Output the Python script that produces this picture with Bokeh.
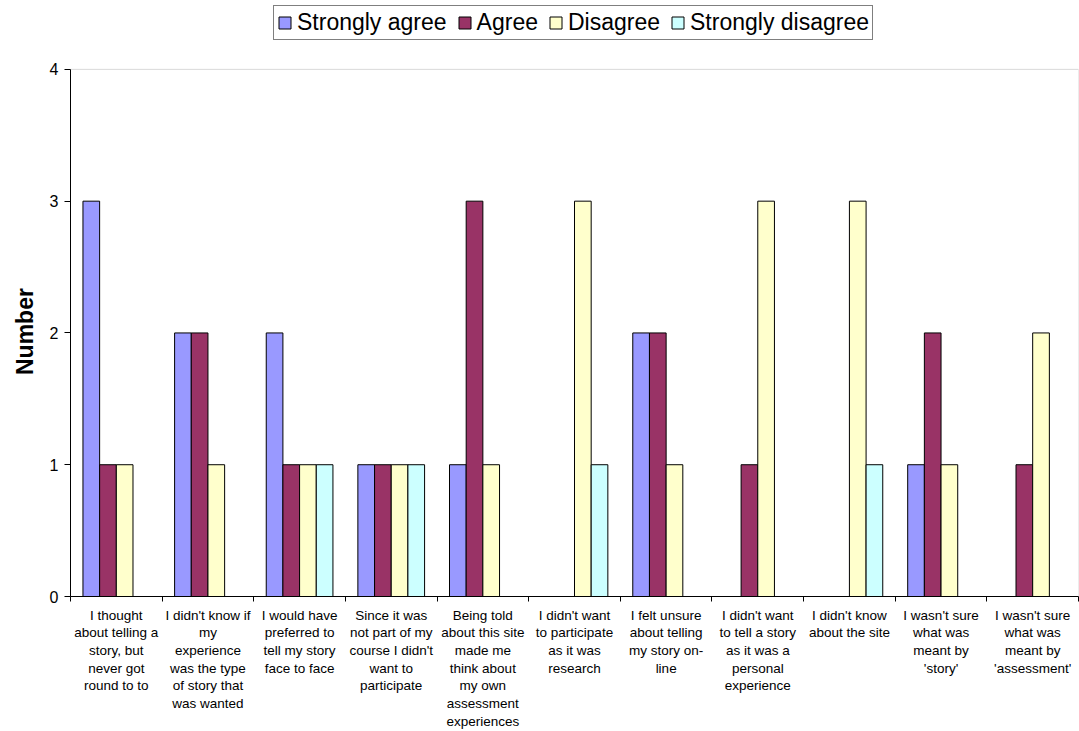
from bokeh.plotting import figure
from bokeh.models import (ColumnDataSource, Range1d, FixedTicker, Legend,
                          LegendItem, BoxAnnotation, Title)
from bokeh.transform import dodge
from bokeh.embed import file_html
from bokeh.resources import INLINE

# Survey statements (line breaks are where each label wraps under the axis)
categories = [
    "I thought\nabout telling a\nstory, but\nnever got\nround to to",
    "I didn't know if\nmy\nexperience\nwas the type\nof story that\nwas wanted",
    "I would have\npreferred to\ntell my story\nface to face",
    "Since it was\nnot part of my\ncourse I didn't\nwant to\nparticipate",
    "Being told\nabout this site\nmade me\nthink about\nmy own\nassessment\nexperiences",
    "I didn't want\nto participate\nas it was\nresearch",
    "I felt unsure\nabout telling\nmy story on-\nline",
    "I didn't want\nto tell a story\nas it was a\npersonal\nexperience",
    "I didn't know\nabout the site",
    "I wasn't sure\nwhat was\nmeant by\n'story'",
    "I wasn't sure\nwhat was\nmeant by\n'assessment'",
]

series_names = ["Strongly agree", "Agree", "Disagree", "Strongly disagree"]
strongly_agree = [3, 2, 2, 1, 1, 0, 2, 0, 0, 1, 0]
agree = [1, 2, 1, 1, 3, 0, 2, 1, 0, 2, 1]
disagree = [1, 1, 1, 1, 1, 3, 1, 3, 3, 1, 2]
strongly_disagree = [0, 0, 1, 1, 0, 1, 0, 0, 1, 0, 0]
series_colors = ["#9999FF", "#993366", "#FFFFCC", "#CCFFFF"]

y_ticks = [0, 1, 2, 3, 4]
y_title = "Number"

FONT = "Liberation Sans"

n = len(categories)
positions = list(range(n))
y_min, y_max = y_ticks[0], y_ticks[-1]

source = ColumnDataSource(dict(
    x=positions,
    sa=strongly_agree,
    a=agree,
    d=disagree,
    sd=strongly_disagree,
))

# The frame runs to the top of the canvas so the legend can sit above the
# value axis; the extra headroom above y_max holds the legend.
FRAME_H = 597
PLOT_TOP = 69
y_end = y_max * FRAME_H / (FRAME_H - PLOT_TOP)

p = figure(
    width=1079, height=731,
    x_range=Range1d(-0.5, n - 0.5),
    y_range=Range1d(y_min, y_end),
    output_backend="svg", toolbar_location=None, title_location=None,
    min_border_left=69, min_border_right=1,
    min_border_top=0, min_border_bottom=132,
)
p.background_fill_color = "white"
p.border_fill_color = "white"
p.outline_line_color = None
p.xgrid.visible = False
p.ygrid.visible = False

# plot-area border (grey), under the bars and axes
p.add_layout(BoxAnnotation(
    left=-0.5, right=n - 0.5, bottom=y_min, top=y_max,
    fill_color=None, line_color="#808080", line_width=1, level="underlay",
))

bar_w = 0.182
offsets = [-1.5 * bar_w, -0.5 * bar_w, 0.5 * bar_w, 1.5 * bar_w]
keys = ["sa", "a", "d", "sd"]

renderers = []
for key, off, col in zip(keys, offsets, series_colors):
    r = p.vbar(
        x=dodge("x", off, range=p.x_range), top=key, bottom=0,
        width=bar_w, source=source,
        fill_color=col, line_color="black", line_width=1,
    )
    renderers.append(r)

legend = Legend(
    items=[LegendItem(label=nm, renderers=[r]) for nm, r in zip(series_names, renderers)],
    orientation="horizontal",
    location=(203, FRAME_H - 41),
    label_text_font=FONT,
    label_text_font_size="23px",
    label_text_color="black",
    glyph_width=15, glyph_height=15,
    label_standoff=5,
    spacing=10,
    padding=3,
    margin=0,
    border_line_color="black",
    border_line_width=1,
    background_fill_color="white",
    background_fill_alpha=1.0,
)
p.add_layout(legend, "center")

# x axis: labels at category centres, ticks on category boundaries
xa = p.xaxis[0]
xa.ticker = FixedTicker(ticks=positions, minor_ticks=[i - 0.5 for i in range(n + 1)])
xa.major_label_overrides = {i: c for i, c in zip(positions, categories)}
xa.major_tick_out = 0
xa.major_tick_in = 0
xa.minor_tick_out = 5
xa.minor_tick_in = 0
xa.minor_tick_line_color = "black"
xa.axis_line_color = "black"
xa.major_label_standoff = 6
xa.major_label_text_font = FONT
xa.major_label_text_font_size = "13.5px"
xa.major_label_text_line_height = 1.18
xa.major_label_text_color = "black"
xa.major_label_orientation = "horizontal"

ya = p.yaxis[0]
ya.bounds = (y_min, y_max)
ya.ticker = FixedTicker(ticks=y_ticks, minor_ticks=[])
ya.major_tick_out = 6
ya.major_tick_in = 0
ya.axis_line_color = "black"
ya.major_tick_line_color = "black"
ya.major_label_standoff = 6
ya.major_label_text_font = FONT
ya.major_label_text_font_size = "16px"
ya.major_label_text_color = "black"

# value-axis title, centred on the 0..4 span rather than the whole frame;
# anchored at its start, measured up from the bottom of the frame
TITLE_LEN = 85
p.add_layout(Title(
    text=y_title, align="left",
    offset=(FRAME_H - PLOT_TOP) / 2 - TITLE_LEN / 2,
    standoff=18,
    text_font=FONT, text_font_size="23px", text_font_style="bold",
    text_color="black",
), "left")

open("out.html", "w").write(file_html(p, INLINE))
